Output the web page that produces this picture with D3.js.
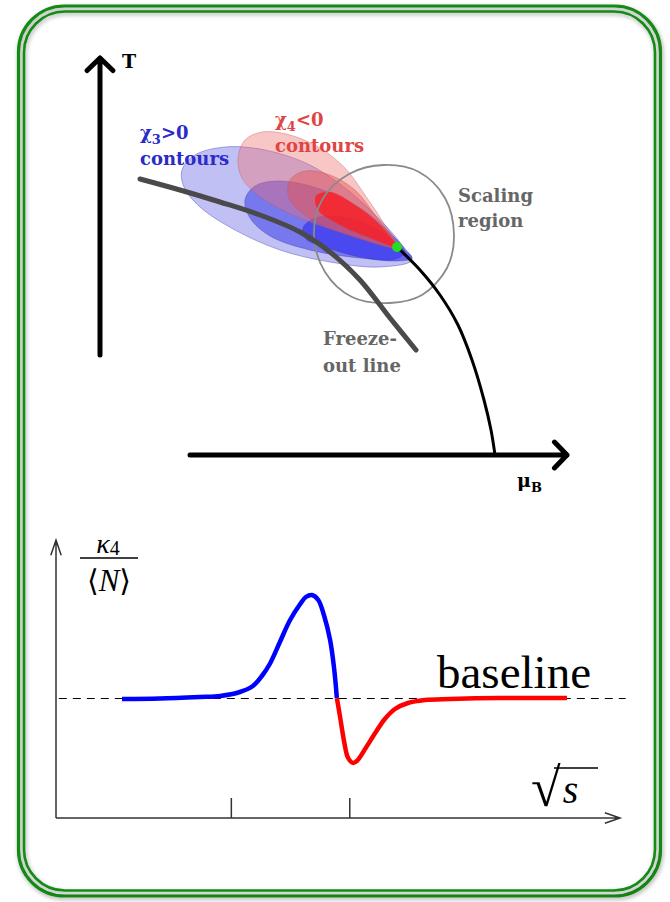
<!DOCTYPE html>
<html>
<head>
<meta charset="utf-8">
<script src="https://cdn.jsdelivr.net/npm/d3@7"></script>
<style>
  body { margin: 0; background: #fff; }
  svg { display: block; }
</style>
</head>
<body>
<script>
// ---- phase diagram data (arbitrary units: mu_B across, T up)
var criticalPoint = [297, 208];
var freezeOut = [[40,276],[80,265],[120,253],[160,240],[200,223],[230,203],[260,175],[290,137],[316,105]];
var transitionLine = [[297,208],[320,185],[340,160],[358,130],[372,95],[384,55],[391,25],[395,0]];
var scalingRegion = [[354,220],[347,187],[322,160],[290,152],[252,158],[225,183],[214,220],[222,255],
                     [249,281],[284,290],[319,283],[345,257]];
// chi_3 > 0 contours, outer to inner
var chi3Outer = [[312,195],[280,188],[230,193],[180,205],[135,225],[100,248],[84,268],[82,285],[95,300],
                 [125,308],[165,305],[210,290],[250,263],[285,230],[302,210]];
var chi3Middle = [[145,255],[155,269],[180,274],[220,266],[260,247],[290,222],[305,203],[295,196],
                  [260,197],[210,205],[170,219],[150,237]];
var chi3Inner = [[203,227],[215,237],[245,238],[275,227],[298,210],[312,197],[295,194],[260,198],[225,208],[206,216]];
// chi_4 < 0 contours, outer to inner
var chi4Outer = [[297,208],[283,233],[265,260],[245,287],[220,307],[190,320],[162,323],[145,315],[138,297],
                 [142,277],[162,257],[200,237],[250,220]];
var chi4Middle = [[297,208],[275,240],[255,265],[230,280],[205,284],[190,275],[189,257],[205,240],[240,223],[275,212]];
var chi4Inner = [[297,208],[280,230],[255,250],[230,263],[216,259],[218,245],[240,230],[275,215]];

// ---- kappa_4/<N> vs sqrt(s)
var sqrtSBlue  = [11.7, 18.4, 25.5, 29.1, 32.6, 34.9, 36.5, 37.9, 39.7, 41.5, 43.3, 44.3, 45.4, 46.5, 47.5, 48.6, 49.3, 49.8];
var kappaBlue  = [0.99, 0.995, 1.01, 1.02, 1.06, 1.12, 1.22, 1.34, 1.56, 1.78, 1.94, 2.01, 2.03, 1.98, 1.83, 1.58, 1.30, 1.00];
var sqrtSRed   = [49.8, 50.4, 51.1, 51.8, 52.7, 53.5, 54.8, 56.6, 58.3, 60.1, 62.4, 65.4, 69.9, 78.7, 90.6];
var kappaRed   = [1.00, 0.80, 0.56, 0.40, 0.35, 0.38, 0.49, 0.65, 0.79, 0.89, 0.95, 0.98, 0.99, 1.00, 1.00];
var sqrtSTicks = [31, 52];
var baselineValue = 1;

var W = 670, H = 902;
var svg = d3.select('body').append('svg').attr('width', W).attr('height', H);

// soft shadow for the frame
var defs = svg.append('defs');
var shadow = defs.append('filter').attr('id', 'shadow').attr('x', '-5%').attr('y', '-5%').attr('width', '110%').attr('height', '110%');
shadow.append('feDropShadow').attr('dx', 1).attr('dy', 2).attr('stdDeviation', 2)
  .attr('flood-color', '#000').attr('flood-opacity', 0.35);

// double green frame
svg.append('rect')
  .attr('x', 18.5).attr('y', 6).attr('width', 642).attr('height', 890)
  .attr('rx', 46).attr('ry', 46)
  .attr('fill', 'none').attr('stroke', '#138a13').attr('stroke-width', 3.2)
  .attr('filter', 'url(#shadow)');
svg.append('rect')
  .attr('x', 24).attr('y', 11.5).attr('width', 631).attr('height', 879)
  .attr('rx', 41).attr('ry', 41)
  .attr('fill', 'none').attr('stroke', '#138a13').attr('stroke-width', 2.6)
  .attr('filter', 'url(#shadow)');

// ================= phase diagram =================
var px = d3.scaleLinear().domain([0, 470]).range([100, 570]);
var py = d3.scaleLinear().domain([0, 400]).range([455, 55]);

var phase = svg.append('g');
var loopLine = d3.line().x(function(d) { return px(d[0]); }).y(function(d) { return py(d[1]); })
  .curve(d3.curveCatmullRomClosed.alpha(0.5));
var pathLine = d3.line().x(function(d) { return px(d[0]); }).y(function(d) { return py(d[1]); })
  .curve(d3.curveCatmullRom.alpha(0.5));

var blueLayers = [
  { pts: chi3Outer,  fill: '#5a5ae6', op: 0.38 },
  { pts: chi3Middle, fill: '#3d3de8', op: 0.55 },
  { pts: chi3Inner,  fill: '#2a2af0', op: 0.6 }
];
var redLayers = [
  { pts: chi4Outer,  fill: '#f07070', op: 0.4 },
  { pts: chi4Middle, fill: '#e85050', op: 0.45 },
  { pts: chi4Inner,  fill: '#ff1a1a', op: 0.75 }
];

phase.selectAll('path.blue').data(blueLayers).enter().append('path')
  .attr('class', 'blue')
  .attr('d', function(d) { return loopLine(d.pts); })
  .attr('fill', function(d) { return d.fill; })
  .attr('fill-opacity', function(d) { return d.op; })
  .attr('stroke', '#3a3ab0').attr('stroke-opacity', 0.5).attr('stroke-width', 0.8);

phase.selectAll('path.red').data(redLayers).enter().append('path')
  .attr('class', 'red')
  .attr('d', function(d) { return loopLine(d.pts); })
  .attr('fill', function(d) { return d.fill; })
  .attr('fill-opacity', function(d) { return d.op; })
  .attr('stroke', '#c05050').attr('stroke-opacity', 0.45).attr('stroke-width', 0.8);

// scaling region
phase.append('path').attr('d', loopLine(scalingRegion))
  .attr('fill', 'none').attr('stroke', '#8a8a8a').attr('stroke-width', 1.8);

// freeze-out line
phase.append('path').attr('d', pathLine(freezeOut))
  .attr('fill', 'none').attr('stroke', '#4a4a4a').attr('stroke-width', 5).attr('stroke-linecap', 'round');

// first-order transition line
phase.append('path').attr('d', pathLine(transitionLine))
  .attr('fill', 'none').attr('stroke', '#000').attr('stroke-width', 3);

// critical point
phase.append('circle').attr('cx', px(criticalPoint[0])).attr('cy', py(criticalPoint[1])).attr('r', 5)
  .attr('fill', '#22dd22');

// axes with bold arrows
function bigArrow(x1, y1, x2, y2) {
  var a = Math.atan2(y2 - y1, x2 - x1), L = 18, s = 0.8;
  var p = d3.path();
  p.moveTo(x1, y1); p.lineTo(x2, y2);
  p.moveTo(x2 - L * Math.cos(a - s), y2 - L * Math.sin(a - s));
  p.lineTo(x2, y2);
  p.lineTo(x2 - L * Math.cos(a + s), y2 - L * Math.sin(a + s));
  phase.append('path').attr('d', p.toString())
    .attr('fill', 'none').attr('stroke', '#000').attr('stroke-width', 5)
    .attr('stroke-linecap', 'round').attr('stroke-linejoin', 'round');
}
bigArrow(px(0), py(100), px(0), py(397));
bigArrow(px(90), py(0), px(467), py(0));

var serifB = "'DejaVu Serif', serif";
function lbl(x, y, txt, color, size) {
  return phase.append('text').attr('x', x).attr('y', y).text(txt)
    .attr('font-family', serifB).attr('font-weight', 'bold')
    .attr('font-size', size || 18).attr('fill', color);
}
lbl(122, 68, 'T', '#000', 19);

var mu = phase.append('text').attr('x', 517).attr('y', 487)
  .attr('font-family', serifB).attr('font-weight', 'bold').attr('font-size', 19).attr('fill', '#000');
mu.append('tspan').text('μ');
mu.append('tspan').attr('dy', 5).attr('font-size', 13).text('B');

var c3 = phase.append('text').attr('x', 140).attr('y', 139)
  .attr('font-family', serifB).attr('font-weight', 'bold').attr('font-size', 18).attr('fill', '#2b2bc8');
c3.append('tspan').text('χ');
c3.append('tspan').attr('dy', 5).attr('font-size', 13).text('3');
c3.append('tspan').attr('dy', -5).text('>0');
lbl(140, 165, 'contours', '#2b2bc8');

var c4 = phase.append('text').attr('x', 275).attr('y', 126)
  .attr('font-family', serifB).attr('font-weight', 'bold').attr('font-size', 18).attr('fill', '#e04545');
c4.append('tspan').text('χ');
c4.append('tspan').attr('dy', 5).attr('font-size', 13).text('4');
c4.append('tspan').attr('dy', -5).text('<0');
lbl(275, 152, 'contours', '#e04545');

lbl(458, 202, 'Scaling', '#666');
lbl(458, 227, 'region', '#666');
lbl(323, 345, 'Freeze-', '#666');
lbl(323, 372, 'out line', '#666');

// ================= kappa4 / <N> plot =================
var kx = d3.scaleLinear().domain([0, 100]).range([56, 620]);
var ky = d3.scaleLinear().domain([-0.2, 2.58]).range([818, 540]);
var bot = svg.append('g');

// baseline
bot.append('line')
  .attr('x1', kx(0.5)).attr('x2', kx(101)).attr('y1', ky(baselineValue) + 0.5).attr('y2', ky(baselineValue) + 0.5)
  .attr('stroke', '#000').attr('stroke-width', 1.1).attr('stroke-dasharray', '8,6');

// ticks on the sqrt(s) axis
var xAxis = d3.axisBottom(kx).tickValues(sqrtSTicks).tickSize(-20).tickFormat('');
var gx = bot.append('g').attr('transform', 'translate(0,' + ky(-0.2) + ')').call(xAxis);
gx.select('.domain').remove();
gx.selectAll('.tick line').attr('stroke', '#333').attr('stroke-width', 1.5);

function thinArrow(x1, y1, x2, y2) {
  var a = Math.atan2(y2 - y1, x2 - x1), L = 16, s = 0.33;
  var p = d3.path();
  p.moveTo(x1, y1); p.lineTo(x2, y2);
  p.moveTo(x2 - L * Math.cos(a - s), y2 - L * Math.sin(a - s));
  p.lineTo(x2, y2);
  p.lineTo(x2 - L * Math.cos(a + s), y2 - L * Math.sin(a + s));
  bot.append('path').attr('d', p.toString())
    .attr('fill', 'none').attr('stroke', '#333').attr('stroke-width', 1.5);
}
thinArrow(kx(0), ky(-0.2), kx(100), ky(-0.2));
thinArrow(kx(0), ky(-0.2), kx(0), ky(2.58));

var curve = d3.line().x(function(d) { return kx(d[0]); }).y(function(d) { return ky(d[1]); })
  .curve(d3.curveCatmullRom.alpha(0.5));
bot.append('path').attr('d', curve(d3.zip(sqrtSBlue, kappaBlue)))
  .attr('fill', 'none').attr('stroke', '#0000ff').attr('stroke-width', 4.5);
bot.append('path').attr('d', curve(d3.zip(sqrtSRed, kappaRed)))
  .attr('fill', 'none').attr('stroke', '#ff0000').attr('stroke-width', 4.5);

var serif = "'Liberation Serif', 'Times New Roman', serif";
bot.append('text').attr('x', 437).attr('y', 688).text('baseline')
  .attr('font-family', serif).attr('font-size', 47).attr('fill', '#000');

// y label: kappa_4 / <N>
var num = bot.append('text').attr('x', 108).attr('y', 553).attr('text-anchor', 'middle')
  .attr('font-family', serif).attr('font-size', 28).attr('fill', '#000');
num.append('tspan').attr('font-style', 'italic').text('κ');
num.append('tspan').attr('dy', 2).attr('font-size', 20).text('4');
bot.append('line').attr('x1', 80).attr('x2', 138).attr('y1', 558).attr('y2', 558)
  .attr('stroke', '#000').attr('stroke-width', 1.4);
var den = bot.append('text').attr('x', 109).attr('y', 591).attr('text-anchor', 'middle')
  .attr('font-family', serif).attr('font-size', 31).attr('fill', '#000');
den.append('tspan').attr('font-family', "'DejaVu Serif', serif").attr('font-size', 30).text('⟨');
den.append('tspan').attr('font-style', 'italic').text('N');
den.append('tspan').attr('font-family', "'DejaVu Serif', serif").attr('font-size', 30).text('⟩');

// x label: sqrt(s)
var sq = bot.append('text').attr('x', 531).attr('y', 806)
  .attr('font-family', serif).attr('font-size', 54).attr('fill', '#000');
sq.append('tspan').text('√');
sq.append('tspan').attr('dy', -3).attr('dx', 2).attr('font-style', 'italic').attr('font-size', 40).text('s');
bot.append('line').attr('x1', 554).attr('x2', 598).attr('y1', 768).attr('y2', 768)
  .attr('stroke', '#000').attr('stroke-width', 1.6);
</script>
</body>
</html>
